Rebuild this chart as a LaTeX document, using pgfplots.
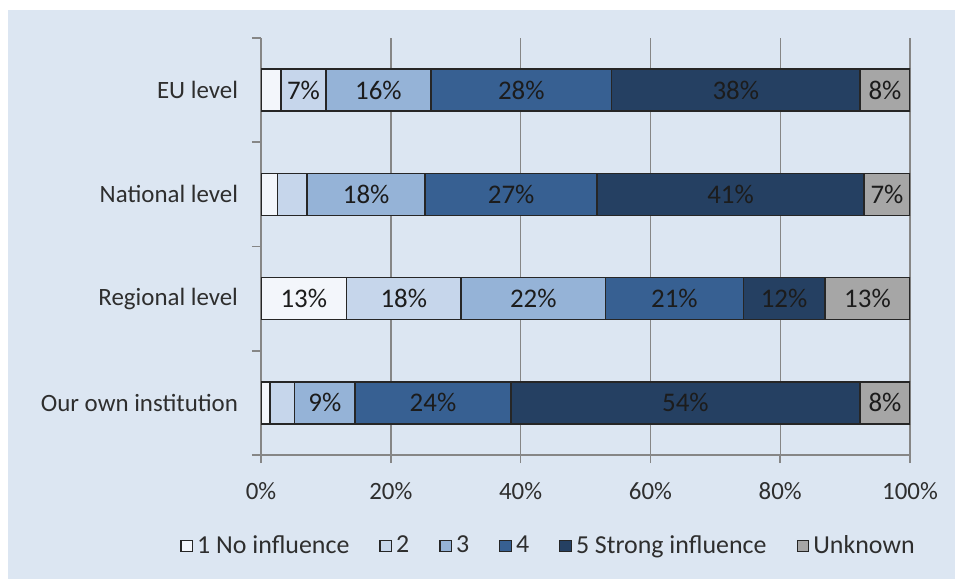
\documentclass[border=0pt]{standalone}
\usepackage{pgfplots}
\pgfplotsset{compat=1.18}
\usepackage{fontspec}
\setmainfont{Carlito}
\definecolor{bg}{HTML}{DCE6F2}
\definecolor{cA}{HTML}{F3F6FB}
\definecolor{cB}{HTML}{C6D6EB}
\definecolor{cC}{HTML}{95B3D7}
\definecolor{cD}{HTML}{376092}
\definecolor{cE}{HTML}{254062}
\definecolor{cF}{HTML}{A6A6A6}
\definecolor{axisgray}{HTML}{868686}
\definecolor{txt}{HTML}{2E2E2E}
\definecolor{lbl}{HTML}{1C1C1C}
\newcommand{\tickfont}{\fontsize{12.5}{14}\selectfont}
\newcommand{\barfont}{\fontsize{13.5}{15}\selectfont}
\newcommand{\legfont}{\fontsize{13}{15}\selectfont}
\begin{document}
\begin{tikzpicture}
\fill[white] (0,0) rectangle (477.5bp,289.5bp);
\fill[bg] (4bp,0) rectangle (477.5bp,284.5bp);
\begin{axis}[
  at={(130.5bp,62bp)}, anchor=south west,
  scale only axis, width=324.5bp, height=208.5bp,
  xbar stacked, bar width=21bp,
  xmin=0, xmax=100, ymin=-0.5, ymax=3.5,
  axis x line*=bottom, axis y line*=left,
  axis line style={-, draw=axisgray, line width=0.8bp},
  xtick={0,20,40,60,80,100},
  xticklabels={0\%,20\%,40\%,60\%,80\%,100\%},
  xmajorgrids,
  major grid style={draw=axisgray, line width=0.7bp},
  ytick={0,1,2,3},
  yticklabels={Our own institution,Regional level,National level,EU level},
  minor ytick={-0.5,0.5,1.5,2.5,3.5},
  tick align=outside,
  major tick length=4bp, minor tick length=4.5bp,
  major y tick style={draw=none},
  minor y tick style={draw=axisgray, line width=0.8bp},
  major x tick style={draw=axisgray, line width=0.8bp},
  tick label style={font=\tickfont, text=txt},
  xticklabel style={yshift=-6bp},
  yticklabel style={xshift=-4bp},
  point meta=explicit symbolic,
  nodes near coords,
  every node near coord/.append style={anchor=center, font=\barfont, text=lbl, inner sep=0pt},
  legend style={at={(axis description cs:0.5,0)}, anchor=center, xshift=-18bp, yshift=-45.5bp, draw=none, fill=none, font=\legfont, text=txt, legend columns=-1, nodes={inner sep=2bp}, /tikz/every even column/.append style={column sep=13bp}},
  legend image code/.code={\draw[#1, draw=black!85, line width=0.6bp] (0bp,-2.9bp) rectangle (5.8bp,2.9bp);},
]
\addplot[fill=cA, draw=black!85, line width=0.7bp] coordinates {(3.1,3) [{}] (2.5,2) [{}] (13.2,1) [13\%] (1.4,0) [{}]};
\addplot[fill=cB, draw=black!85, line width=0.7bp] coordinates {(6.9,3) [7\%] (4.6,2) [{}] (17.6,1) [18\%] (3.8,0) [{}]};
\addplot[fill=cC, draw=black!85, line width=0.7bp] coordinates {(16.2,3) [16\%] (18.2,2) [18\%] (22.3,1) [22\%] (9.3,0) [9\%]};
\addplot[fill=cD, draw=black!85, line width=0.7bp] coordinates {(27.8,3) [28\%] (26.5,2) [27\%] (21.2,1) [21\%] (24.0,0) [24\%]};
\addplot[fill=cE, draw=black!85, line width=0.7bp] coordinates {(38.3,3) [38\%] (41.1,2) [41\%] (12.6,1) [12\%] (53.8,0) [54\%]};
\addplot[fill=cF, draw=black!85, line width=0.7bp] coordinates {(7.7,3) [8\%] (7.1,2) [7\%] (13.1,1) [13\%] (7.7,0) [8\%]};
\legend{1 No influence, 2, 3, 4, 5 Strong influence, Unknown}
\end{axis}
\end{tikzpicture}
\end{document}
